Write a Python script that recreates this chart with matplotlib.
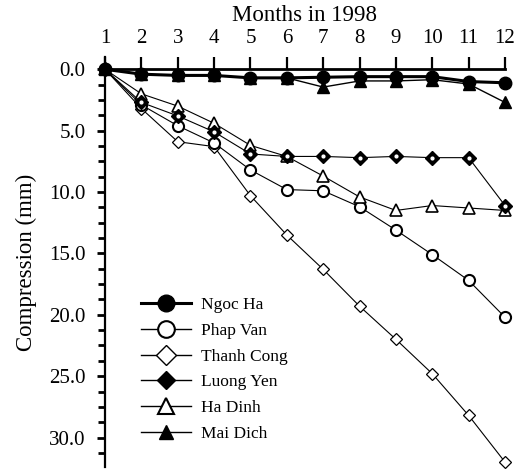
import matplotlib
matplotlib.use("Agg")
import matplotlib.pyplot as plt
from matplotlib.ticker import MultipleLocator, FormatStrFormatter
from matplotlib.lines import Line2D

plt.rcParams['font.family'] = ['Liberation Serif', 'DejaVu Serif']

months = list(range(1, 13))
ngoc_ha   = [0.0, 0.4, 0.5, 0.5, 0.7, 0.7, 0.65, 0.6, 0.6, 0.6, 1.0, 1.1]
phap_van  = [0.0, 2.9, 4.6, 6.0, 8.2, 9.8, 9.9, 11.2, 13.1, 15.1, 17.2, 20.2]
thanh_cong = [0.0, 3.2, 5.9, 6.3, 10.3, 13.5, 16.3, 19.3, 22.0, 24.8, 28.2, 32.0]
luong_yen = [0.0, 2.7, 3.8, 5.1, 6.9, 7.1, 7.1, 7.2, 7.1, 7.2, 7.2, 11.1]
ha_dinh   = [0.0, 2.0, 3.0, 4.4, 6.2, 7.1, 8.7, 10.4, 11.5, 11.1, 11.3, 11.5]
mai_dich  = [0.0, 0.4, 0.5, 0.5, 0.7, 0.7, 1.45, 0.95, 0.95, 0.85, 1.2, 2.7]

series_names = ["Ngoc Ha", "Phap Van", "Thanh Cong", "Luong Yen", "Ha Dinh", "Mai Dich"]

fig = plt.figure(figsize=(5.17, 4.72), dpi=100)
ax = fig.add_axes([105/517, 1-467/472, 400/517, 410/472])

lw = 0.8
ax.plot(months, thanh_cong, color='black', lw=lw, marker='D', ms=6, mfc='white', mec='black', mew=0.9, clip_on=False, zorder=3)
ax.plot(months, phap_van, color='black', lw=lw, marker='o', ms=8, mfc='white', mec='black', mew=1.5, clip_on=False, zorder=3)
ax.plot(months, ha_dinh, color='black', lw=lw, marker='^', ms=8, mfc='white', mec='black', mew=1.2, clip_on=False, zorder=3)
ax.plot(months, luong_yen, color='black', lw=lw, marker='D', ms=7, mfc='black', mec='black', clip_on=False, zorder=4)
ax.plot(months, luong_yen, ls='none', marker='o', ms=2, mfc='white', mec='white', clip_on=False, zorder=5)
ax.plot(months, mai_dich, color='black', lw=1.0, marker='^', ms=8, mfc='black', mec='black', clip_on=False, zorder=4)
ax.plot(months, ngoc_ha, color='black', lw=2.2, marker='o', ms=9, mfc='black', mec='black', clip_on=False, zorder=6)

ax.set_xlim(1, 12)
ax.set_ylim(32.4, -1.0)

ax.spines['right'].set_visible(False)
ax.spines['bottom'].set_visible(False)
ax.spines['top'].set_position(('data', 0))
ax.spines['top'].set_linewidth(2.0)
ax.spines['left'].set_linewidth(1.6)

ax.xaxis.tick_top()
ax.xaxis.set_label_position('top')
ax.set_xticks(months)
ax.tick_params(axis='x', direction='out', length=9, width=1.6, pad=6, labelsize=15)
ax.set_xlabel("Months in 1998", fontsize=16.5, labelpad=6)

ax.yaxis.set_major_locator(MultipleLocator(5))
ax.yaxis.set_minor_locator(MultipleLocator(1.25))
ax.yaxis.set_major_formatter(FormatStrFormatter('%.1f'))
ax.tick_params(axis='y', which='major', direction='out', length=6, width=2.0, pad=8, labelsize=15)
ax.tick_params(axis='y', which='minor', direction='out', length=5, width=2.0)
ax.set_ylabel("Compression (mm)", fontsize=16.5, labelpad=9)

handles = [
    Line2D([], [], color='black', lw=2.2, marker='o', ms=12, mfc='black', mec='black'),
    Line2D([], [], color='black', lw=1.0, marker='o', ms=12, mfc='white', mec='black', mew=1.5),
    Line2D([], [], color='black', lw=1.0, marker='D', ms=10, mfc='white', mec='black', mew=1.0),
    Line2D([], [], color='black', lw=1.0, marker='D', ms=9, mfc='black', mec='black'),
    Line2D([], [], color='black', lw=1.0, marker='^', ms=12, mfc='white', mec='black', mew=1.5),
    Line2D([], [], color='black', lw=1.0, marker='^', ms=10, mfc='black', mec='black'),
]
ax.legend(handles, series_names, loc='upper left', bbox_to_anchor=(132/517, 1-288/472),
          bbox_transform=fig.transFigure, frameon=False, fontsize=12.5,
          handlelength=2.9, handletextpad=0.6, labelspacing=0.56, borderpad=0)

fig.savefig("out.png", dpi=100)
